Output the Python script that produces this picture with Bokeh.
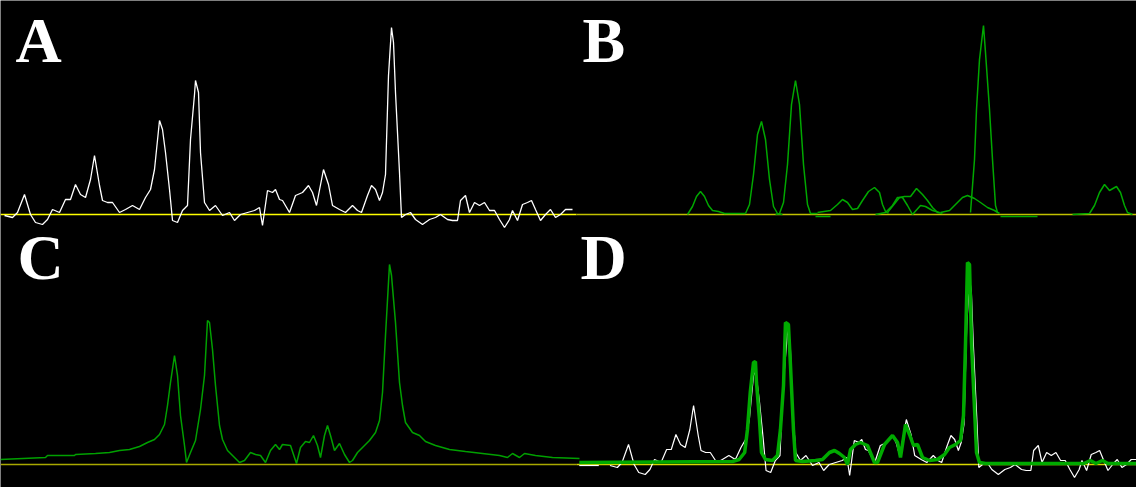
from bokeh.plotting import figure
from bokeh.models import Range1d, Label
from bokeh.embed import file_html
from bokeh.resources import INLINE

# ---------------- data ----------------
# Panel A / D (white): experimental spectrum, channel vs intensity
spec_x = [2, 10, 15, 22, 28, 33, 40, 45, 50, 57, 63, 68, 73, 78, 83, 88, 92, 97, 100, 105,
          110, 117, 123, 130, 137, 143, 148, 152, 157, 160, 163, 167, 170, 175, 180, 185, 188,
          192, 193, 196, 198, 202, 207, 213, 220, 227, 232, 238, 245, 252, 257, 260, 265, 270,
          273, 277, 280, 287, 293, 300, 306, 310, 314, 321, 326, 330, 337, 343, 350, 355, 359,
          365, 369, 373, 377, 380, 383, 386, 389, 391, 393, 397, 399, 403, 408, 413, 420, 427,
          433, 438, 445, 450, 455, 458, 463, 467, 472, 477, 482, 487, 492, 497, 502, 507, 510,
          515, 520, 525, 529, 533, 538, 543, 548, 553, 558, 563, 570]
spec_y = [-1, -3, 2, 20, 0, -8, -10, -5, 5, 2, 15, 15, 30, 20, 17, 35, 59, 29, 14, 12,
          12, 2, 5, 9, 5, 17, 25, 45, 94, 85, 62, 25, -6, -8, 4, 9, 75,
          120, 134, 122, 62, 12, 4, 9, -1, 2, -6, 0, 2, 4, 7, -11, 24, 22,
          25, 15, 14, 2, 19, 22, 29, 22, 9, 45, 30, 9, 5, 2, 9, 4, 2,
          19, 29, 25, 14, 22, 40, 139, 187, 172, 122, 42, -3, 0, 2, -5, -10, -5,
          -3, 0, -5, -6, -6, 14, 19, 2, 12, 9, 12, 4, 4, -5, -13, -5, 4,
          -6, 10, 12, 14, 5, -6, 0, 5, -3, 0, 5, 5]

# Panel D: leading flat part of the white trace
lead_x = [-31, -10]
lead_y = [-1, -1]

# Panel B: individual fitted components
comp_x = [
    [115, 120, 124, 128, 132, 136, 140, 146, 152, 173],
    [173, 177, 181, 185, 189, 193, 197, 201, 205, 210],
    [203, 207, 211, 215, 219, 223, 227, 231, 235, 238, 245],
    [245, 258, 265, 270, 275, 280, 285, 290, 296, 302, 307, 310, 313, 316],
    [303, 313, 320, 325, 330, 335, 340],
    [315, 323, 327, 332, 338, 344, 350, 355, 360, 365, 370],
    [340, 348, 353, 360, 367],
    [368, 377, 383, 390, 395, 402, 408, 415, 422, 427],
    [398, 402, 404, 407, 411, 413, 417, 420, 423, 425],
    [428, 465],
    [243, 258],
    [500, 517, 522, 527, 532, 537, 544, 548, 552, 555, 560],
]
comp_y = [
    [0, 8, 18, 23, 18, 9, 4, 3, 1, 1],
    [1, 10, 40, 80, 93, 75, 35, 8, 1, 0],
    [0, 1, 12, 50, 110, 134, 110, 50, 10, 1, 1],
    [2, 4, 10, 15, 12, 5, 6, 14, 23, 27, 22, 10, 3, 1],
    [0, 2, 9, 17, 17, 9, 0],
    [2, 12, 17, 18, 18, 26, 20, 14, 7, 2, 1],
    [0, 9, 8, 4, 2],
    [2, 4, 10, 17, 19, 16, 12, 7, 4, 1],
    [2, 55, 105, 155, 189, 162, 105, 55, 9, 2],
    [-2, -2],
    [-2, -2],
    [0, 1, 9, 22, 30, 24, 28, 22, 9, 2, 0],
]

# Panel C: Lorentzian reconstruction
lor_x = [0, 45, 47, 74, 75, 95, 109, 119, 129, 139, 147, 154, 159, 164, 167, 170, 174, 177,
         180, 184, 186, 190, 195, 200, 204, 207, 209, 212, 215, 219, 222, 227, 232, 239, 244,
         250, 255, 260, 265, 270, 275, 279, 282, 290, 296, 300, 305, 309, 313, 317, 320, 324,
         327, 330, 334, 339, 344, 349, 352, 357, 362, 369, 375, 379, 382, 385, 389, 391, 395,
         399, 402, 405, 412, 419, 425, 435, 449, 465, 482, 499, 507, 512, 519, 524, 535, 552, 579]
lor_y = [5, 7, 9, 9, 10, 11, 12, 14, 15, 18, 22, 25, 30, 40, 59, 82, 109, 89,
         49, 19, 2, 12, 24, 55, 89, 144, 142, 115, 79, 39, 25, 14, 9, 2, 4,
         12, 10, 9, 2, 14, 20, 15, 20, 19, 1, 17, 23, 22, 29, 19, 7, 29,
         39, 29, 14, 21, 10, 2, 4, 12, 17, 24, 32, 44, 72, 129, 200, 189, 142,
         82, 59, 42, 32, 29, 23, 19, 15, 13, 11, 9, 7, 11, 7, 11, 9, 7, 6]

# Panel D: fitted sum (green, thick)
fit_x = [-31, 134, 141, 147, 150, 153, 156.5, 158.6, 159.7, 162.9, 165.1, 169.4, 176.9, 182.3,
         185.5, 188.8, 190.9, 194.1, 196.3, 199.5, 201.7, 209.2, 223.2, 230.7, 238.3, 243.7,
         249, 254.4, 257.7, 260.9, 266.3, 271.6, 279.2, 286.7, 289.9, 297.5, 306.1, 311.5,
         314.7, 320.1, 324.4, 328.7, 333, 338.4, 345.9, 354.5, 362.1, 367.4, 373.9, 379.3,
         382.5, 384.7, 386.8, 389, 391.1, 394.4, 396.5, 399.7, 406.2, 512, 519, 525, 532,
         538, 569]
fit_y = [2, 3, 5, 12, 35, 72, 102, 103, 82, 45, 12, 5, 4, 9,
         35, 79, 142, 140, 99, 35, 4, 3, 4, 5, 12, 14,
         11, 7, 0, 15, 20, 22, 19, 2, 2, 20, 29, 22,
         7, 40, 30, 19, 20, 7, 4, 5, 10, 17, 20, 24,
         49, 122, 202, 200, 122, 55, 12, 2, 1, 1, 4, 1, 4,
         1, 1]

labels = ["A", "B", "C", "D"]

# channel extent of each panel
ext_A = (-2, 574)
ext_B = (4, 564)
ext_C = (0, 576)
ext_D = (-34, 568.7)

# ---------------- figure ----------------
W, H = 1136, 487
SPLIT_X = 576          # left panels width in px
BASE_TOP = 214         # top-row baseline, px from top
BASE_BOT = 464         # bottom-row baseline, px from top

def full_range_left(ext):
    k = (ext[1] - ext[0]) / SPLIT_X
    return Range1d(ext[0], ext[0] + k * W)

def full_range_right(ext):
    k = (ext[1] - ext[0]) / (W - SPLIT_X)
    return Range1d(ext[1] - k * W, ext[1])

p = figure(width=W, height=H, x_range=Range1d(0, W), y_range=Range1d(0, H),
           output_backend="svg", toolbar_location=None,
           background_fill_color="black", border_fill_color="black",
           outline_line_color=None, min_border=0,
           x_axis_location=None, y_axis_location=None)
p.grid.visible = False

p.extra_x_ranges = {
    "A": full_range_left(ext_A), "C": full_range_left(ext_C),
    "B": full_range_right(ext_B), "D": full_range_right(ext_D),
}
p.extra_y_ranges = {
    "top": Range1d(-(H - BASE_TOP), BASE_TOP),
    "bot": Range1d(-(H - BASE_BOT), BASE_BOT),
}

# baselines
p.line(list(ext_A), [0, 0], line_color="#ffff00", line_width=1.5, x_range_name="A", y_range_name="top")
p.line(list(ext_B), [0, 0], line_color="#c0c000", line_width=1.5, x_range_name="B", y_range_name="top")
p.line(list(ext_C), [0, 0], line_color="#a8a800", line_width=1.5, x_range_name="C", y_range_name="bot")
p.line(list(ext_D), [0, 0], line_color="#d8d800", line_width=1.5, x_range_name="D", y_range_name="bot")

# A
p.line(spec_x, spec_y, line_color="white", line_width=1.3, x_range_name="A", y_range_name="top")
# B
p.multi_line(comp_x, comp_y, line_color="#00a800", line_width=1.5, x_range_name="B", y_range_name="top")
# C
p.line(lor_x, lor_y, line_color="#00a000", line_width=1.5, x_range_name="C", y_range_name="bot")
# D
p.line(lead_x, lead_y, line_color="white", line_width=1.2, x_range_name="D", y_range_name="bot")
p.line(spec_x, spec_y, line_color="white", line_width=1.2, x_range_name="D", y_range_name="bot")
p.line(fit_x, fit_y, line_color="#00aa00", line_width=3.5, x_range_name="D", y_range_name="bot")

def add_label(txt, x, y):
    p.add_layout(Label(x=x, y=y, x_units="screen", y_units="screen", text=txt,
                       text_font="Liberation Serif", text_font_style="bold",
                       text_font_size="64px", text_color="white",
                       text_baseline="alphabetic"))

add_label(labels[0], 15, 447)
add_label(labels[1], 582, 447)
add_label(labels[2], 17, 230)
add_label(labels[3], 580, 230)

open("out.html", "w").write(file_html(p, INLINE))
